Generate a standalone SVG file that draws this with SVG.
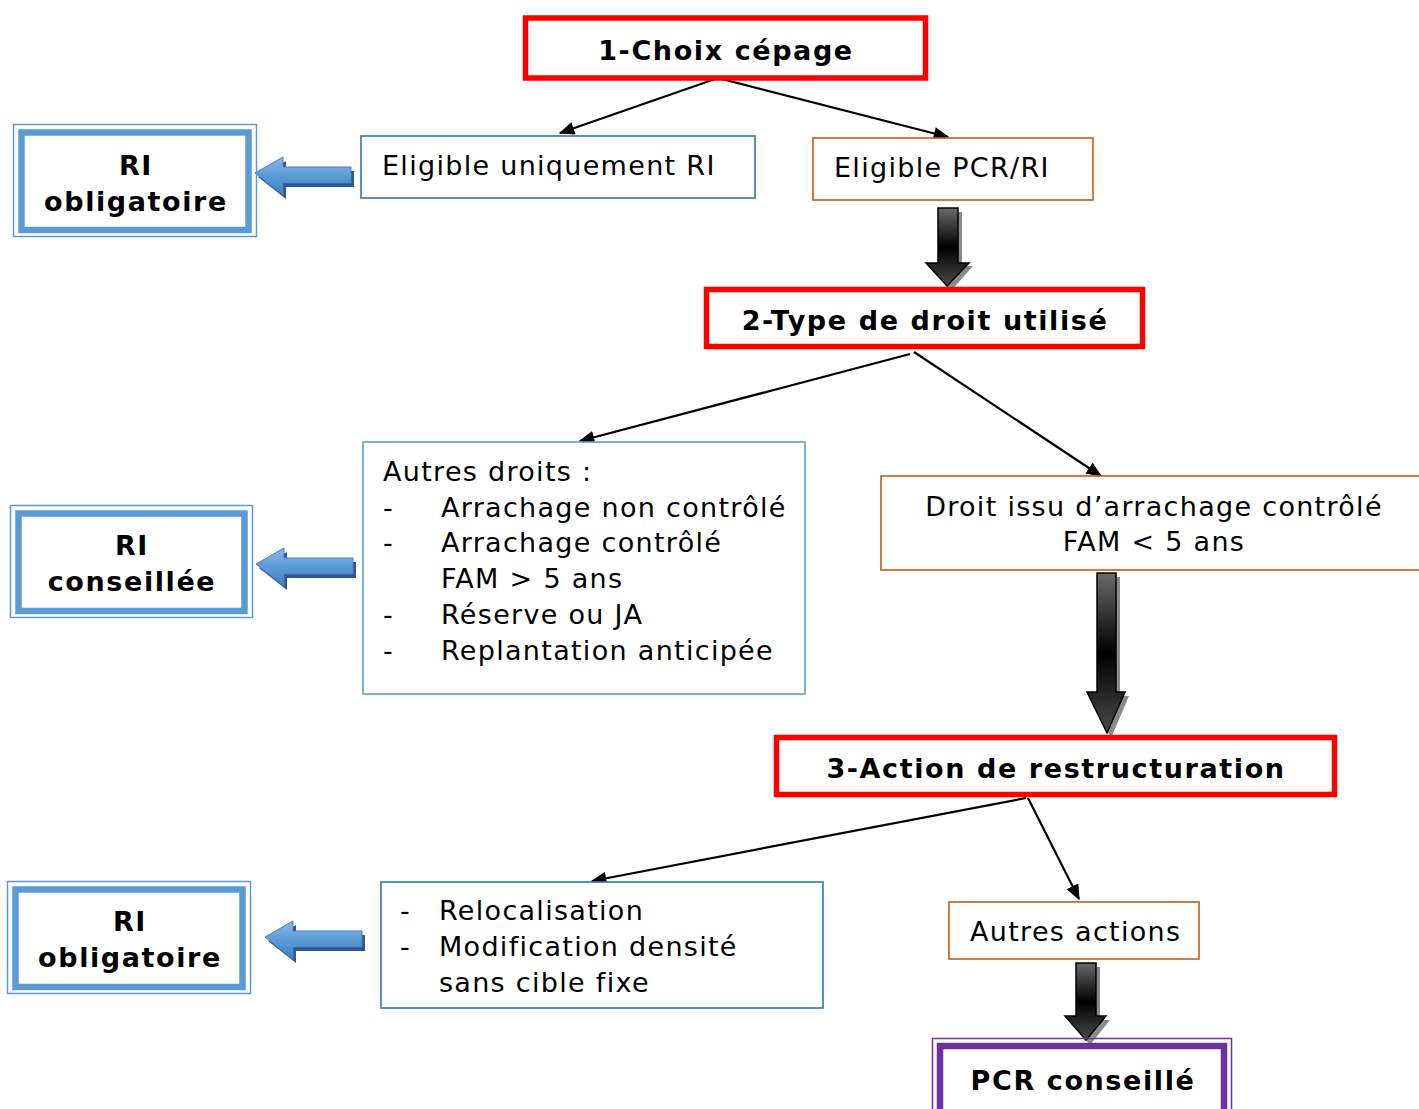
<svg xmlns="http://www.w3.org/2000/svg" width="1419" height="1109" viewBox="0 0 1419 1109">
<defs>
<style>
.t{font-family:"DejaVu Sans","Verdana",sans-serif;font-size:27px;fill:#000;letter-spacing:1.3px}
.b{font-weight:bold;letter-spacing:1.6px}
.red{fill:#fff;stroke:#ff0000;stroke-width:5.5}
.blue{fill:#fff;stroke:#2e75b6;stroke-width:1.6}
.lblue{fill:#fff;stroke:#5b9bd5;stroke-width:1.6}
.org{fill:#fff;stroke:#c55a11;stroke-width:1.6}
.dbo{fill:none;stroke:#5b9bd5;stroke-width:1.5}
.dbi{fill:#fff;stroke:#5b9bd5;stroke-width:6.5}
.con{stroke:#000;stroke-width:2.2;fill:none;marker-end:url(#ah)}
.blk{fill:url(#gk);stroke:#000;stroke-width:1.5}
.blksh{fill:#8a8a8a}
.bla{fill:url(#gb);stroke:#4a7fc0;stroke-width:1}
.blash{fill:#2f5597}
</style>
<marker id="ah" viewBox="0 0 12 10" refX="11" refY="5" markerWidth="16" markerHeight="13" markerUnits="userSpaceOnUse" orient="auto">
<path d="M0,0 L12,5 L0,10 Z" fill="#000"/>
</marker>
<linearGradient id="gk" x1="0" y1="0" x2="0" y2="1">
<stop offset="0" stop-color="#6a6a6a"/>
<stop offset="0.5" stop-color="#000"/>
<stop offset="1" stop-color="#4a4a4a"/>
</linearGradient>
<linearGradient id="gb" x1="0" y1="0" x2="0" y2="1">
<stop offset="0" stop-color="#8db8e8"/>
<stop offset="0.5" stop-color="#5b9bd5"/>
<stop offset="1" stop-color="#3f7fc0"/>
</linearGradient>
</defs>
<rect width="1419" height="1109" fill="#fff"/>

<g id="connectors">
<line class="con" x1="718" y1="78" x2="560" y2="133"/>
<line class="con" x1="718" y1="78" x2="948" y2="137"/>
<line class="con" x1="910" y1="354" x2="580" y2="441"/>
<line class="con" x1="914" y1="352" x2="1101" y2="476"/>
<line class="con" x1="1026" y1="798" x2="592" y2="881"/>
<line class="con" x1="1028" y1="798" x2="1079" y2="899"/>
<g id="barrow1">
<polygon class="blksh" points="942,212 962,212 962,266 973,266 951,291 930,266 942,266"/>
<polygon class="blk" points="938,208 958,208 958,263 969,263 947,286 926,263 938,263"/>
</g>
<g id="barrow2">
<polygon class="blksh" points="1101,577 1120,577 1120,696 1129,696 1111,738 1091,696 1101,696"/>
<polygon class="blk" points="1097,573 1116,573 1116,692 1125,692 1107,733 1087,692 1097,692"/>
</g>
<g id="barrow3">
<polygon class="blksh" points="1080,967 1100,967 1100,1020 1110,1020 1090,1045 1069,1020 1080,1020"/>
<polygon class="blk" points="1076,963 1096,963 1096,1016 1106,1016 1086,1040 1065,1016 1076,1016"/>
</g>
<g id="barrowb1">
<polygon class="blash" points="258,177 286,161 286,171 354,171 354,187 286,187 286,199"/>
<polygon class="bla" points="255,173 283,157 283,167 351,167 351,183 283,183 283,195"/>
</g>
<g id="barrowb2">
<polygon class="blash" points="259,568 287,552 287,562 356,562 356,578 287,578 287,590"/>
<polygon class="bla" points="256,564 284,548 284,558 353,558 353,574 284,574 284,586"/>
</g>
<g id="barrowb3">
<polygon class="blash" points="268,941 296,925 296,935 365,935 365,951 296,951 296,963"/>
<polygon class="bla" points="265,937 293,921 293,931 362,931 362,947 293,947 293,959"/>
</g>
</g>

<g id="n1">
<rect class="red" x="525.5" y="18" width="400" height="60"/>
<text class="t b" x="726" y="60" text-anchor="middle">1-Choix cépage</text>
</g>
<g id="n2">
<rect class="blue" x="361" y="136" width="394" height="62"/>
<text class="t" x="382" y="175">Eligible uniquement RI</text>
</g>
<g id="n3">
<rect class="org" x="813" y="138" width="280" height="62"/>
<text class="t" x="834" y="177">Eligible PCR/RI</text>
</g>
<g id="n4">
<rect class="dbo" x="13.5" y="124.5" width="243" height="112"/>
<rect class="dbi" x="21.5" y="132.5" width="227" height="97.5"/>
<text class="t b" x="136" y="175" text-anchor="middle">RI</text>
<text class="t b" x="136" y="211" text-anchor="middle">obligatoire</text>
</g>
<g id="n5">
<rect class="red" x="706.5" y="289.5" width="436" height="57"/>
<text class="t b" x="925" y="330" text-anchor="middle">2-Type de droit utilisé</text>
</g>
<g id="n6">
<rect class="lblue" x="363" y="442" width="442" height="252"/>
<text class="t" x="383" y="481">Autres droits :</text>
<text class="t" x="383" y="517">-</text><text class="t" x="441" y="517">Arrachage non contrôlé</text>
<text class="t" x="383" y="552">-</text><text class="t" x="441" y="552">Arrachage contrôlé</text>
<text class="t" x="441" y="588">FAM &gt; 5 ans</text>
<text class="t" x="383" y="624">-</text><text class="t" x="441" y="624">Réserve ou JA</text>
<text class="t" x="383" y="660">-</text><text class="t" x="441" y="660">Replantation anticipée</text>
</g>
<g id="n7">
<rect class="org" x="881" y="476" width="560" height="94"/>
<text class="t" x="1154" y="516" text-anchor="middle">Droit issu d’arrachage contrôlé</text>
<text class="t" x="1154" y="551" text-anchor="middle">FAM &lt; 5 ans</text>
</g>
<g id="n8">
<rect class="dbo" x="10.5" y="505.5" width="242" height="112"/>
<rect class="dbi" x="18.5" y="513.5" width="226" height="97.5"/>
<text class="t b" x="132" y="555" text-anchor="middle">RI</text>
<text class="t b" x="132" y="591" text-anchor="middle">conseillée</text>
</g>
<g id="n9">
<rect class="red" x="776.5" y="737.5" width="558" height="57"/>
<text class="t b" x="1056" y="778" text-anchor="middle">3-Action de restructuration</text>
</g>
<g id="n10">
<rect class="blue" x="381" y="882" width="442" height="126"/>
<text class="t" x="400" y="920">-</text><text class="t" x="439" y="920">Relocalisation</text>
<text class="t" x="400" y="956">-</text><text class="t" x="439" y="956">Modification densité</text>
<text class="t" x="439" y="992">sans cible fixe</text>
</g>
<g id="n11">
<rect class="org" x="949" y="902" width="250" height="57"/>
<text class="t" x="970" y="941">Autres actions</text>
</g>
<g id="n12">
<rect class="dbo" x="7.5" y="881.5" width="243" height="112"/>
<rect class="dbi" x="15.5" y="889.5" width="227" height="97.5"/>
<text class="t b" x="130" y="931" text-anchor="middle">RI</text>
<text class="t b" x="130" y="967" text-anchor="middle">obligatoire</text>
</g>
<g id="n13">
<rect x="932.5" y="1038.5" width="299" height="80" fill="none" stroke="#7030a0" stroke-width="1.5"/>
<rect x="940" y="1046" width="284" height="70" fill="#fff" stroke="#7030a0" stroke-width="6.5"/>
<text class="t b" x="1083" y="1090" text-anchor="middle">PCR conseillé</text>
</g>
</svg>
